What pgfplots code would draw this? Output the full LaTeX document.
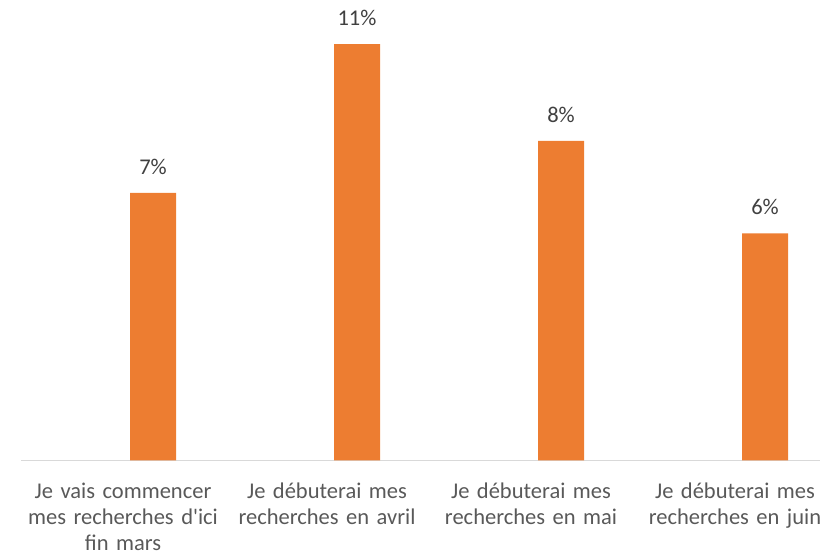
\documentclass[border=0pt]{standalone}
\usepackage{pgfplots}
\pgfplotsset{compat=1.18}
\usepackage{fontspec}
\setmainfont{Carlito}[Ligatures=TeXOff]
\definecolor{barorange}{HTML}{ED7D31}
\definecolor{labelgrey}{HTML}{595959}
\definecolor{valgrey}{HTML}{404040}
\definecolor{axisgrey}{HTML}{D9D9D9}
\begin{document}
\begin{tikzpicture}[x=1pt,y=1pt]
\useasboundingbox (0,0) rectangle (820,556);
\clip (0,0) rectangle (820,556);
\begin{axis}[
    at={(21pt,95.5pt)}, anchor=south west,
    scale only axis,
    width=816pt, height=460.5pt,
    xmin=-0.5, xmax=3.5,
    ymin=0, ymax=12.163,
    hide y axis,
    axis x line*=bottom,
    x axis line style={-, axisgrey, line width=1.3pt},
    xtick={0,1,2,3},
    major tick length=0pt,
    xticklabels={
        {\strut Je vais commencer\\mes recherches d'ici\\fin mars},
        {\strut Je débuterai mes\\recherches en avril},
        {\strut Je débuterai mes\\recherches en mai},
        {\strut Je débuterai mes\\recherches en juin}},
    x tick label style={font=\fontsize{22.5}{26}\selectfont, text=labelgrey,
        align=center, text width=204pt, anchor=north, inner sep=0pt, yshift=-19.3pt},
    ybar, bar width=46pt, bar shift=30pt,
    point meta=explicit symbolic,
    nodes near coords={\pgfplotspointmeta\%},
    nodes near coords style={font=\fontsize{22.5}{26}\selectfont, text=valgrey,
        anchor=south, inner sep=0pt, yshift=18pt},
    clip=false,
]
\addplot[fill=barorange, draw=none] table[x=x, y=y, meta=lab] {
x y lab
0 7.07 7
1 11.00 11
2 8.44 8
3 6.00 6
};
\end{axis}
\end{tikzpicture}
\end{document}
